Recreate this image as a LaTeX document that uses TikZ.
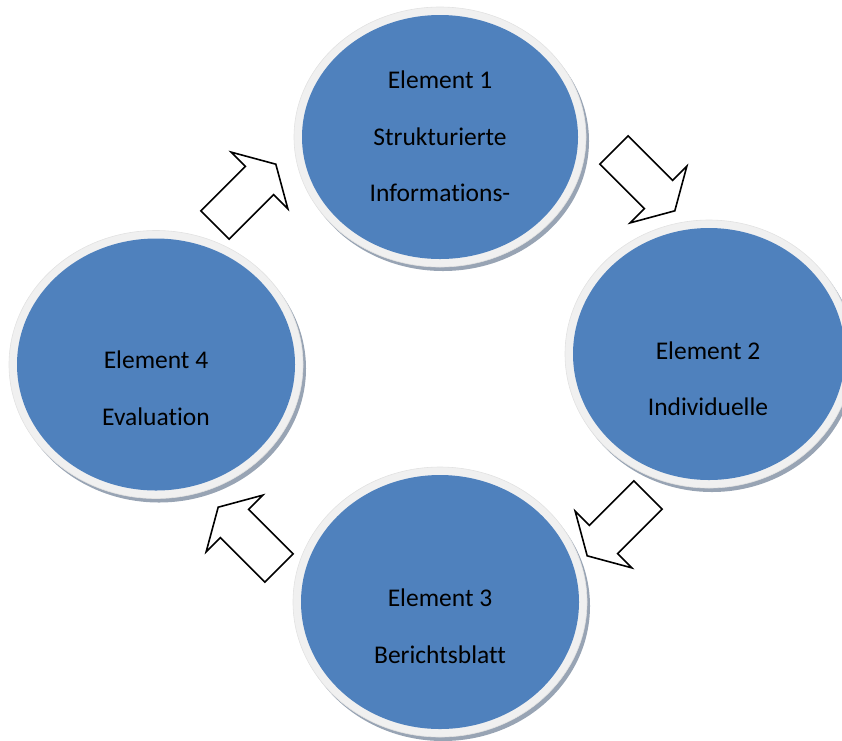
\documentclass[tikz,border=0pt]{standalone}
\usepackage{fontspec}
\setmainfont{Carlito}[RawFeature={-liga;-clig;-dlig}]
\definecolor{ellblue}{HTML}{4F81BD}
\definecolor{ringgray}{HTML}{F0F0F0}
\definecolor{ringline}{HTML}{E2E2E2}
\definecolor{shadowgray}{HTML}{98A4B4}
\tikzset{
  lbl/.style={anchor=base, inner sep=0pt, font=\fontsize{25.5}{30}\selectfont, text=black},
  arrowline/.style={draw=black, fill=white, line width=1.6pt, line join=miter},
  blockarrow/.pic={\path[arrowline] (0,-20) -- (63,-20) -- (63,-40) -- (86,0) -- (63,40) -- (63,20) -- (0,20) -- cycle;}
}
\newcommand{\bubble}[5]{%
  % #1 name, #2 x, #3 y, #4 rx, #5 ry (blue part)
  \fill[shadowgray] (#2+3,#3+4) ellipse [x radius=#4+8, y radius=#5+8];
  \filldraw[fill=ringgray, draw=ringline, line width=0.6pt] (#2,#3) ellipse [x radius=#4+8, y radius=#5+8];
  \node[ellipse, fill=ellblue, minimum width=2*#4, minimum height=2*#5, inner sep=0pt] (#1) at (#2,#3) {};
}
\usetikzlibrary{shapes.geometric}
\begin{document}
\begin{tikzpicture}[x=1pt, y=-1pt]
\useasboundingbox (0,0) rectangle (842,740);
\begin{scope}
\clip (0,0) rectangle (842,740);
\bubble{e1}{440}{137}{138}{122}
\bubble{e2}{709}{354}{136}{126}
\bubble{e3}{440}{602}{139}{127}
\bubble{e4}{156}{364.5}{139}{126}
\end{scope}

\node[lbl] (e1a) at (440,88) {Element 1};
\node[lbl] (e1b) at (440,145) {Strukturierte};
\node[lbl] (e1c) at (440,201.5) {Informations-};

\node[lbl] (e2a) at (708,359) {Element 2};
\node[lbl] (e2b) at (708,415) {Individuelle};

\node[lbl] (e3a) at (440,606.5) {Element 3};
\node[lbl] (e3b) at (440,663) {Berichtsblatt};

\node[lbl] (e4a) at (156,368) {Element 4};
\node[lbl] (e4b) at (156,425) {Evaluation};

\pic[rotate=45] at (215,225) {blockarrow};
\pic[rotate=-45] at (614,150) {blockarrow};
\pic[rotate=-135] at (648,495) {blockarrow};
\pic[rotate=135] at (279,568) {blockarrow};
\end{tikzpicture}
\end{document}
